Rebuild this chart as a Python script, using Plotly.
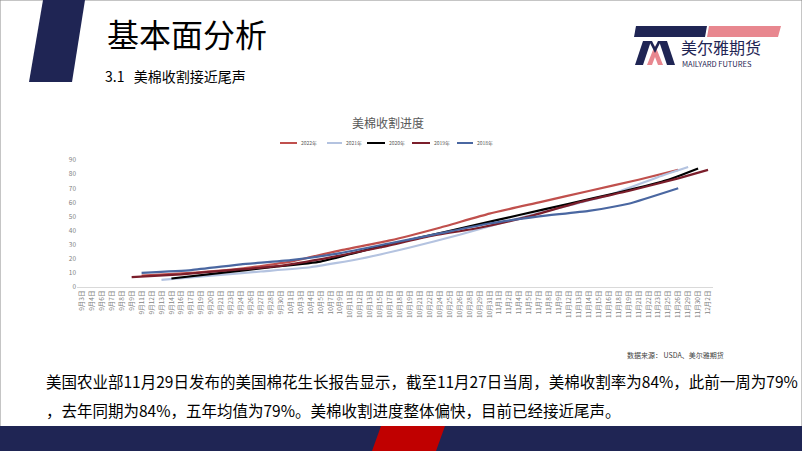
import plotly.graph_objects as go

W, H = 802, 451

# x-axis categories (report dates)
categories = [
    "9月3日", "9月4日", "9月6日", "9月7日", "9月8日", "9月9日", "9月11日", "9月12日",
    "9月13日", "9月14日", "9月16日", "9月17日", "9月19日", "9月20日", "9月21日", "9月23日",
    "9月24日", "9月26日", "9月27日", "9月28日", "9月30日", "10月1日", "10月3日", "10月4日",
    "10月5日", "10月7日", "10月9日", "10月11日", "10月12日", "10月13日", "10月15日", "10月17日",
    "10月18日", "10月19日", "10月21日", "10月22日", "10月24日", "10月25日", "10月26日", "10月28日",
    "10月29日", "10月31日", "11月1日", "11月2日", "11月4日", "11月5日", "11月7日", "11月8日",
    "11月9日", "11月12日", "11月13日", "11月14日", "11月15日", "11月16日", "11月18日", "11月19日",
    "11月21日", "11月22日", "11月23日", "11月25日", "11月26日", "11月29日", "11月30日", "12月2日",
]

# harvest progress (%) per season
x_2022 = ["9月11日", "9月17日", "9月24日", "10月1日", "10月9日", "10月17日", "10月24日",
          "10月31日", "11月7日", "11月14日", "11月21日", "11月26日"]
y_2022 = [8, 10, 13, 18, 26, 33, 42, 52, 60, 68, 76, 83]

x_2021 = ["9月13日", "9月20日", "9月27日", "10月4日", "10月12日", "10月19日", "10月26日",
          "11月2日", "11月9日", "11月16日", "11月23日", "11月29日"]
y_2021 = [5, 8, 11, 14, 20, 28, 37, 47, 56, 65, 78, 85]

x_2020 = ["9月14日", "9月21日", "9月28日", "10月5日", "10月13日", "10月21日", "10月28日",
          "11月4日", "11月12日", "11月18日", "11月25日", "11月30日"]
y_2020 = [6, 10, 14, 18, 27, 35, 43, 51, 59, 67, 76, 84]

x_2019 = ["9月9日", "9月16日", "9月23日", "9月30日", "10月7日", "10月15日", "10月22日",
          "10月29日", "11月5日", "11月13日", "11月19日", "11月26日", "12月2日"]
y_2019 = [7, 9, 12, 15, 21, 28, 36, 42, 50, 60, 68, 77, 83]

x_2018 = ["9月11日", "9月17日", "9月24日", "10月1日", "10月9日", "10月17日", "10月24日",
          "10月31日", "11月7日", "11月14日", "11月19日", "11月26日"]
y_2018 = [10, 12, 16, 19, 24, 31, 38, 45, 50, 54, 59, 70]

series = [
    ("2022年", x_2022, y_2022, "#c0504d"),
    ("2021年", x_2021, y_2021, "#b4c3e0"),
    ("2020年", x_2020, y_2020, "#000000"),
    ("2019年", x_2019, y_2019, "#7b1e2b"),
    ("2018年", x_2018, y_2018, "#4a67a1"),
]

y_ticks = list(range(0, 100, 10))

FONT = "Noto Sans CJK SC"
NAVY = "#1f2554"
PINK = "#e8878f"


def px(x):
    return x / W


def py(y):
    return 1 - y / H


def poly(points):
    return "M " + " L ".join(f"{px(x)},{py(y)}" for x, y in points) + " Z"


def fill(points, color):
    return dict(type="path", xref="paper", yref="paper", path=poly(points),
                fillcolor=color, line=dict(width=0))


fig = go.Figure()
for name, xs, ys, color in series:
    fig.add_trace(go.Scatter(
        x=xs, y=ys, name=name, mode="lines",
        line=dict(color=color, width=2.2, shape="spline", smoothing=0.4),
        connectgaps=True, showlegend=False,
    ))

shapes = [
    # slide frame
    dict(type="rect", xref="paper", yref="paper", x0=0, x1=1, y0=0, y1=1,
         line=dict(color="#8c8c8c", width=1)),
    # header parallelogram
    fill([(43, 0), (85, 0), (72, 82), (29, 82)], NAVY),
    # logo bars
    fill([(636, 26), (707, 26), (705, 37), (634, 37)], NAVY),
    fill([(709, 26), (781, 26), (778, 37), (707, 37)], PINK),
    # logo mark
    fill([(635, 65), (643, 41), (651, 41), (643, 65)], NAVY),
    fill([(675, 65), (667, 41), (659, 41), (667, 65)], NAVY),
    fill([(647, 65), (655, 45), (663, 65), (658, 65), (655, 57), (652, 65)], PINK),
    fill([(649, 41), (655, 53), (661, 41), (658, 41), (655, 47), (652, 41)], NAVY),
    # bottom band
    dict(type="rect", xref="paper", yref="paper", x0=0, x1=1, y0=0, y1=py(426),
         fillcolor=NAVY, line=dict(width=0)),
    fill([(381, 426), (445, 426), (436, 451), (372, 451)], "#c00000"),
]
annotations = []

# manual legend
legend_pos = [(280, 297, 299), (327, 342, 344), (367, 385, 387), (412, 430, 432), (457, 473, 475)]
for (name, _, _, color), (l0, l1, tx) in zip(series, legend_pos):
    shapes.append(dict(type="line", xref="paper", yref="paper",
                       x0=px(l0), x1=px(l1), y0=py(143), y1=py(143),
                       line=dict(color=color, width=2)))
    annotations.append(dict(text=name, x=px(tx), y=py(143), xref="paper", yref="paper",
                            xanchor="left", yanchor="middle", showarrow=False,
                            font=dict(size=5, color="#595959", family=FONT)))

texts = [
    ("基本面分析", 105, 33, 32, "#000000", "left"),
    ("3.1   美棉收割接近尾声", 103, 76, 14, "#000000", "left"),
    ("美尔雅期货", 679, 47, 16, NAVY, "left"),
    ("MAILYARD FUTURES", 680, 64, 7.5, NAVY, "left"),
    ("美棉收割进度", 388, 123, 12, "#595959", "center"),
    ("数据来源： USDA、美尔雅期货", 625, 355, 7, "#404040", "left"),
    ("美国农业部11月29日发布的美国棉花生长报告显示，截至11月27日当周，美棉收割率为84%，此前一周为79%",
     44, 381, 15.5, "#000000", "left"),
    ("，去年同期为84%，五年均值为79%。美棉收割进度整体偏快，目前已经接近尾声。",
     44, 410, 15.5, "#000000", "left"),
]
for text, x, y, size, color, anchor in texts:
    annotations.append(dict(text=text, x=px(x), y=py(y), xref="paper", yref="paper",
                            xanchor=anchor, yanchor="middle", showarrow=False,
                            font=dict(size=size, color=color, family=FONT)))

fig.update_layout(
    template="none",
    width=W, height=H,
    margin=dict(l=0, r=0, t=0, b=0),
    paper_bgcolor="white", plot_bgcolor="white",
    font=dict(family=FONT),
    shapes=shapes,
    annotations=annotations,
    xaxis=dict(
        domain=[px(77), px(713)],
        type="category", categoryorder="array", categoryarray=categories,
        tickmode="array", tickvals=categories, ticktext=categories,
        range=[-0.5, len(categories) - 0.5],
        tickangle=-90, tickfont=dict(size=6.5, color="#7f7f7f"),
        showline=True, linecolor="#d9d9d9", linewidth=1,
        showgrid=False, zeroline=False, ticks="", automargin=False,
    ),
    yaxis=dict(
        domain=[py(287), py(160)],
        range=[0, 90], tickvals=y_ticks,
        tickfont=dict(size=6.5, color="#7f7f7f"),
        showgrid=False, zeroline=False, showline=False, ticks="", automargin=False,
    ),
)

fig.write_html("out.html", config={"displayModeBar": False},
               post_script="document.body.style.margin='0px';")
